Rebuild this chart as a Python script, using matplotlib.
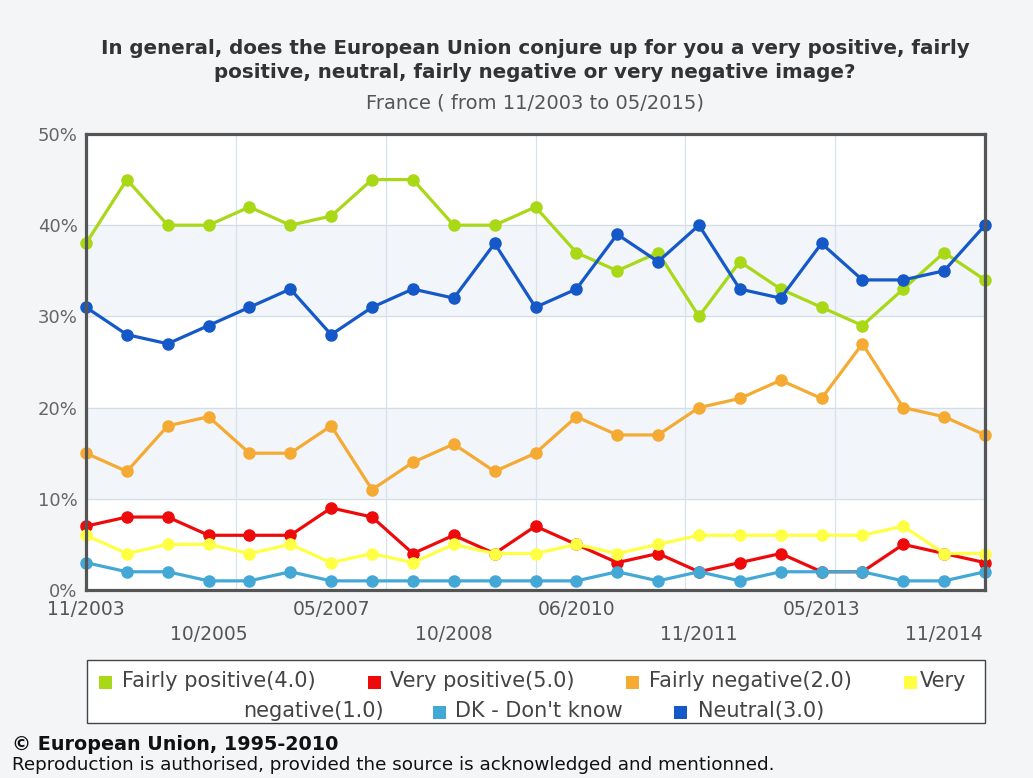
import numpy as np
import matplotlib
matplotlib.use('Agg')
import matplotlib.pyplot as plt
from matplotlib.patches import Rectangle

# survey waves, 11/2003 .. 05/2015
tick_labels = ['11/2003', '10/2005', '05/2007', '10/2008',
               '06/2010', '11/2011', '05/2013', '11/2014']
n_waves = 23

series_names = ['Fairly positive(4.0)', 'Very positive(5.0)', 'Fairly negative(2.0)',
                'Very negative(1.0)', "DK - Don't know", 'Neutral(3.0)']
series_colors = ['#a8d816', '#ee0a0a', '#f5aa33', '#ffff44', '#44a8d6', '#1558c8']

fairly_positive = [38, 45, 40, 40, 42, 40, 41, 45, 45, 40, 40, 42, 37, 35, 37, 30, 36, 33, 31, 29, 33, 37, 34]
very_positive = [7, 8, 8, 6, 6, 6, 9, 8, 4, 6, 4, 7, 5, 3, 4, 2, 3, 4, 2, 2, 5, 4, 3]
fairly_negative = [15, 13, 18, 19, 15, 15, 18, 11, 14, 16, 13, 15, 19, 17, 17, 20, 21, 23, 21, 27, 20, 19, 17]
very_negative = [6, 4, 5, 5, 4, 5, 3, 4, 3, 5, 4, 4, 5, 4, 5, 6, 6, 6, 6, 6, 7, 4, 4]
dont_know = [3, 2, 2, 1, 1, 2, 1, 1, 1, 1, 1, 1, 1, 2, 1, 2, 1, 2, 2, 2, 1, 1, 2]
neutral = [31, 28, 27, 29, 31, 33, 28, 31, 33, 32, 38, 31, 33, 39, 36, 40, 33, 32, 38, 34, 34, 35, 40]

all_series = [fairly_positive, very_positive, fairly_negative, very_negative, dont_know, neutral]

W, H = 1033, 778
bg = '#f4f5f7'

def fx(x):
    return x / W

def fy(y):
    return 1 - y / H

fig = plt.figure(figsize=(W / 100, H / 100), dpi=100, facecolor=bg)
ax = fig.add_axes([fx(86), fy(590), (985 - 86) / W, (590 - 134) / H])
ax.set_facecolor('white')

x = np.arange(n_waves)
ax.set_xlim(0, n_waves - 1)
ax.set_ylim(0, 50)

# shaded bands and grid
for lo in (10, 30):
    ax.axhspan(lo, lo + 10, color='#f2f5f9', zorder=0)
for v in (10, 20, 30, 40):
    ax.axhline(v, color='#d4dee8', lw=0.9, zorder=1)
for v in np.linspace(0, n_waves - 1, 7)[1:-1]:
    ax.axvline(v, color='#d6e3ef', lw=0.9, zorder=1)

for i, (vals, col) in enumerate(zip(all_series, series_colors)):
    ax.plot(x, vals, color=col, lw=2.3, marker='o', ms=8, clip_on=False, zorder=3 + i)

ax.set_yticks(range(0, 51, 10))
ax.set_yticklabels(['%d%%' % v for v in range(0, 51, 10)], fontsize=13, color='#666666')
tick_pos = list(range(0, n_waves - 1, 3))
ax.set_xticks(tick_pos)
ax.set_xticklabels([lab if k % 2 == 0 else '\n' + lab for k, lab in enumerate(tick_labels)],
                   fontsize=13.5, color='#555555', linespacing=1.4)
ax.tick_params(length=0, pad=6)
ax.tick_params(axis='x', pad=7)

for s in ax.spines.values():
    s.set_linewidth(2.3)
    s.set_color('#555555')
    s.set_zorder(10)

# titles
fig.text(0.518, fy(49), 'In general, does the European Union conjure up for you a very positive, fairly',
         ha='center', va='center', fontsize=14.3, fontweight='bold', color='#333333')
fig.text(0.518, fy(73), 'positive, neutral, fairly negative or very negative image?',
         ha='center', va='center', fontsize=14.3, fontweight='bold', color='#333333')
fig.text(0.518, fy(103), 'France ( from 11/2003 to 05/2015)',
         ha='center', va='center', fontsize=14, color='#555555')

# legend box, laid out like the original (wrapped inside a fixed-width box)
fig.patches.append(Rectangle((fx(87), fy(723)), (985 - 87) / W, (723 - 660) / H,
                             transform=fig.transFigure, facecolor='white',
                             edgecolor='#444444', lw=1))
sq = 13
leg_rows = {0: 681, 1: 711}
# (series index, square x, text x, row, text)
leg_items = [
    (0, 99, 122, 0, series_names[0]),
    (1, 368, 390, 0, series_names[1]),
    (2, 626, 649, 0, series_names[2]),
    (3, 904, 920, 0, series_names[3].split(' ')[0]),
    (None, None, 243, 1, series_names[3].split(' ')[1]),
    (4, 433, 455, 1, series_names[4]),
    (5, 674, 698, 1, series_names[5]),
]
for idx, sx, tx, row, txt in leg_items:
    yc = leg_rows[row]
    if idx is not None:
        fig.patches.append(Rectangle((fx(sx), fy(yc + 1 + sq / 2)), sq / W, sq / H,
                                     transform=fig.transFigure,
                                     facecolor=series_colors[idx], edgecolor='none'))
    fig.text(fx(tx), fy(yc), txt, ha='left', va='center', fontsize=15, color='#444444')

fig.text(fx(12), fy(744), '\u00a9 European Union, 1995-2010', ha='left', va='center',
         fontsize=13.8, fontweight='bold', color='#111111')
fig.text(fx(12), fy(765), 'Reproduction is authorised, provided the source is acknowledged and mentionned.',
         ha='left', va='center', fontsize=13.2, color='#111111')

fig.savefig('out.png', dpi=100, facecolor=bg)
